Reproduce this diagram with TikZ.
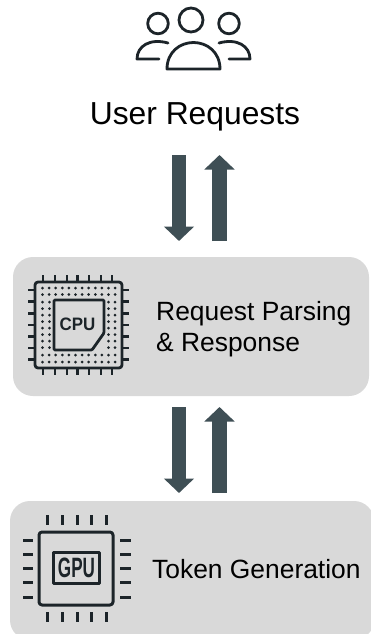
\documentclass[tikz,border=0pt]{standalone}
\usepackage{fontspec}
\setmainfont{Liberation Sans}
\usetikzlibrary{arrows.meta}
\definecolor{boxgray}{HTML}{D9D9D9}
\definecolor{arrowcol}{HTML}{3F4F55}
\definecolor{iconcol}{HTML}{1C2429}
\tikzset{
  panel/.style={fill=boxgray,draw=none,rounded corners=20pt},
  label/.style={font=\fontsize{26.4}{31}\selectfont,inner sep=0pt,align=left,anchor=west,text=black},
  flow/.style={draw=arrowcol,line width=14.5pt,-{Triangle[length=14.5pt,width=29.5pt,inset=0pt]}},
  icon/.style={draw=iconcol,line width=2.8pt,line cap=round,line join=round},
  pin/.style={draw=iconcol,line width=2.6pt},
  gpin/.style={draw=iconcol,line width=3pt}
}
\begin{document}
\begin{tikzpicture}[x=1pt,y=-1pt]
\useasboundingbox (0,0) rectangle (371,634);
\fill[white] (0,0) rectangle (371,634);
% panels
\path[panel] (13,257) rectangle (369,396);
\path[panel] (10,501) rectangle (374,640);
% people icon
\draw[icon] (191,20) circle (12);
\draw[icon] (158,23.5) circle (10.3);
\draw[icon] (229,23.5) circle (10.3);
\draw[icon] (168,43) .. controls (150,38) and (137,46) .. (137,59) -- (159,59);
\draw[icon] (219,43) .. controls (237,38) and (250,46) .. (250,59) -- (229,59);
\draw[icon] (167,69) .. controls (167,52) and (180,42.5) .. (193.5,42.5) .. controls (207,42.5) and (220,52) .. (220,69) -- cycle;
\node[label,anchor=center,font=\fontsize{31.8}{36}\selectfont] (user) at (195,117) {User Requests};
% arrows
\coordinate (a1s) at (179,155); \coordinate (a1e) at (179,241);
\coordinate (a2s) at (219.5,241); \coordinate (a2e) at (219.5,155);
\draw[flow] (a1s) -- (a1e);
\draw[flow] (a2s) -- (a2e);
\coordinate (b1s) at (179,407); \coordinate (b1e) at (179,493);
\coordinate (b2s) at (219.5,493); \coordinate (b2e) at (219.5,407);
\draw[flow] (b1s) -- (b1e);
\draw[flow] (b2s) -- (b2e);
% CPU icon
\draw[icon,rounded corners=3pt] (35,282) rectangle (122,368);
\foreach \px [count=\n from 0] in {43,55,67,77.5,89,101,112}{
  \pgfmathsetmacro{\py}{290+\n*11.6}
  \draw[pin] (\px,275) -- (\px,282);
  \draw[pin] (\px,368) -- (\px,375);
  \draw[pin] (28,\py) -- (35,\py);
  \draw[pin] (122,\py) -- (129,\py);
}
\foreach \i in {0,...,11}{
  \foreach \y in {288,294.5,355,362}{\fill[iconcol] ({42.5+\i*6.6},\y) circle (1.5);}
}
\foreach \j in {0,...,7}{
  \foreach \x in {42.5,49.5,108.5,115}{\fill[iconcol] (\x,{302+\j*6.5}) circle (1.5);}
}
\draw[icon,rounded corners=1pt] (54,300) -- (104,300) -- (104,333) -- (92,350) -- (54,350) -- cycle;
\node[font=\bfseries\fontsize{18}{18}\selectfont,text=iconcol,inner sep=0pt,xscale=.94] (cpu) at (77.5,324) {CPU};
\node[label] (parse) at (156,329) {Request Parsing\\\& Response};
% GPU icon
\draw[icon,line width=3pt,rounded corners=3pt] (39,532) rectangle (113,605);
\draw[icon,line width=3pt] (53,552) rectangle (99,583);
\foreach \px [count=\n from 0] in {47,62,77,91,106}{
  \pgfmathsetmacro{\py}{540+\n*14.3}
  \draw[gpin] (\px,515) -- (\px,525);
  \draw[gpin] (\px,612) -- (\px,622);
  \draw[gpin] (23,\py) -- (33,\py);
  \draw[gpin] (120,\py) -- (131,\py);
}
\node[font=\bfseries\fontsize{28}{28}\selectfont,text=iconcol,inner sep=0pt,xscale=.61] (gpu) at (76.5,568) {GPU};
\node[label] (tok) at (152,569) {Token Generation};
\end{tikzpicture}
\end{document}
